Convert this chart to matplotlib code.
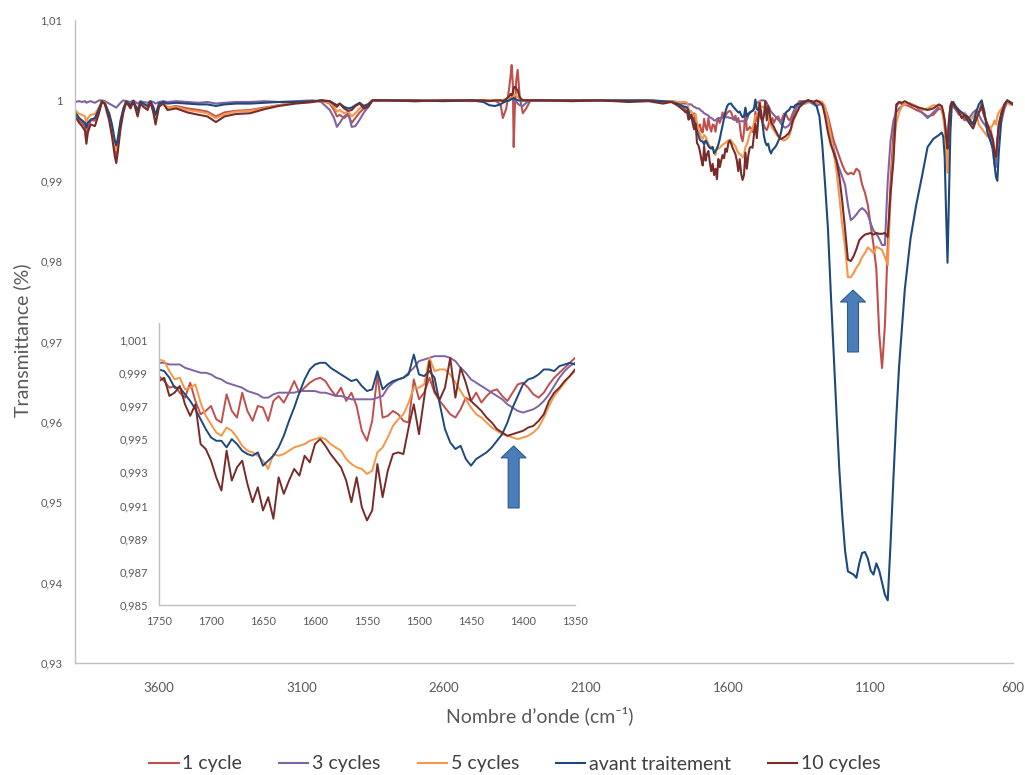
import matplotlib
matplotlib.use("Agg")
import matplotlib.pyplot as plt
from matplotlib.patches import FancyArrowPatch, ArrowStyle
import numpy as np

plt.rcParams['font.family'] = ['Lato', 'DejaVu Sans']

# ---------------- data ----------------
series_names = ["1 cycle", "3 cycles", "5 cycles", "avant traitement", "10 cycles"]
series_colors = ["#C0504D", "#8064A2", "#F79646", "#1F497D", "#772C2A"]

# wavenumber grid, region 3895-1755
wn_high = [3895, 3880, 3870, 3860, 3855, 3850, 3840, 3825, 3810, 3800,
           3790, 3775, 3765, 3755, 3750, 3745, 3735, 3725, 3715, 3700,
           3690, 3675, 3665, 3655, 3640, 3630, 3620, 3612, 3600, 3585,
           3570, 3540, 3500, 3460, 3430, 3400, 3370, 3330, 3280, 3230,
           3180, 3120, 3060, 3030, 3000, 2985, 2975, 2965, 2950, 2935,
           2923, 2910, 2895, 2880, 2865, 2850, 2800, 2700, 2600, 2500,
           2460, 2440, 2420, 2400, 2392, 2380, 2370, 2365, 2361, 2357,
           2354, 2350, 2345, 2340, 2333, 2322, 2310, 2295, 2250, 2150,
           2050, 1950, 1880, 1830, 1800, 1780, 1765, 1755]

# wavenumber grid, band region 1750-1350 (shown in the inset)
wn_band = [1750, 1745, 1740, 1735, 1730, 1725, 1720, 1715, 1710, 1705,
           1700, 1695, 1690, 1685, 1680, 1675, 1670, 1665, 1660, 1655,
           1650, 1645, 1640, 1635, 1630, 1625, 1620, 1615, 1610, 1605,
           1600, 1595, 1590, 1585, 1580, 1575, 1570, 1565, 1560, 1555,
           1550, 1545, 1540, 1535, 1530, 1525, 1520, 1515, 1510, 1505,
           1500, 1495, 1490, 1485, 1480, 1475, 1470, 1465, 1460, 1455,
           1450, 1445, 1440, 1435, 1430, 1425, 1420, 1415, 1410, 1405,
           1400, 1395, 1390, 1385, 1380, 1375, 1370, 1365, 1360, 1355,
           1350]

# wavenumber grid, region 1340-600
wn_low = [1340, 1330, 1320, 1310, 1300, 1290, 1280, 1270, 1260, 1250,
          1240, 1230, 1220, 1210, 1200, 1190, 1180, 1170, 1160, 1150,
          1140, 1130, 1120, 1110, 1100, 1090, 1080, 1070, 1060, 1050,
          1040, 1030, 1020, 1010, 1000, 990, 980, 960, 940, 920,
          900, 880, 860, 850, 845, 840, 835, 830, 825, 820,
          815, 810, 800, 790, 780, 770, 760, 750, 740, 730,
          720, 710, 700, 690, 680, 670, 665, 660, 655, 650,
          640, 630, 620, 610, 600]

# ---- 1 cycle ----
c1_high = [0.9985, 0.9975, 0.9972, 0.9968, 0.9952, 0.9965, 0.9975, 0.9975, 0.9988, 0.9999,
           0.9996, 0.9980, 0.9962, 0.9938, 0.9930, 0.9942, 0.9970, 0.9988, 0.9998, 0.9993,
           0.9999, 0.9985, 0.9997, 0.9993, 0.9990, 0.9998, 0.9988, 0.9975, 0.9993, 0.9997,
           0.9991, 0.9993, 0.9990, 0.9988, 0.9986, 0.9980, 0.9985, 0.9987, 0.9988, 0.9991,
           0.9994, 0.9997, 0.9998, 1.0000, 0.9996, 0.9988, 0.9980, 0.9982, 0.9978, 0.9982,
           0.9972, 0.9978, 0.9985, 0.9990, 0.9995, 1.0000, 1.0000, 1.0000, 1.0000, 0.9999,
           1.0000, 1.0000, 1.0000, 0.9995, 0.9978, 0.9990, 1.0015, 1.0030, 1.0044, 1.0020,
           0.9942, 0.9990, 1.0025, 1.0038, 1.0005, 0.9984, 0.9990, 1.0000, 1.0000, 1.0000,
           1.0000, 0.9999, 1.0000, 0.9998, 0.9999, 0.9996, 0.9993, 0.9990]
c1_band = [0.9988, 0.9985, 0.9981, 0.9982, 0.9978, 0.9975, 0.9984, 0.9973, 0.9965, 0.9967,
           0.9970, 0.9962, 0.9960, 0.9977, 0.9967, 0.9963, 0.9978, 0.9967, 0.9961, 0.9970,
           0.9969, 0.9961, 0.9973, 0.9976, 0.9972, 0.9978, 0.9985, 0.9978, 0.9981, 0.9984,
           0.9986, 0.9987, 0.9985, 0.9980, 0.9976, 0.9981, 0.9973, 0.9978, 0.9970, 0.9955,
           0.9949, 0.9961, 0.9989, 0.9963, 0.9964, 0.9967, 0.9965, 0.9961, 0.9960, 0.9986,
           0.9974, 0.9978, 0.9987, 0.9978, 0.9973, 0.9969, 0.9965, 0.9963, 0.9968, 0.9975,
           0.9973, 0.9978, 0.9972, 0.9976, 0.9979, 0.9980, 0.9976, 0.9973, 0.9978, 0.9983,
           0.9984, 0.9981, 0.9977, 0.9975, 0.9978, 0.9983, 0.9987, 0.9990, 0.9993, 0.9996,
           0.9999]
c1_low = [0.9999, 0.9998, 1.0000, 0.9999, 0.9998, 0.9997, 0.9998, 0.9995, 0.9990, 0.9980,
          0.9965, 0.9950, 0.9940, 0.9930, 0.9920, 0.9912, 0.9908, 0.9910, 0.9908, 0.9915,
          0.9912, 0.9895, 0.9885, 0.9870, 0.9845, 0.9820, 0.9790, 0.9710, 0.9667, 0.9720,
          0.9820, 0.9900, 0.9960, 0.9992, 0.9998, 0.9995, 0.9995, 0.9992, 0.9988, 0.9985,
          0.9980, 0.9982, 0.9990, 0.9988, 0.9980, 0.9970, 0.9955, 0.9938, 0.9970, 0.9990,
          0.9995, 0.9993, 0.9990, 0.9985, 0.9980, 0.9975, 0.9980, 0.9972, 0.9970, 0.9980,
          0.9985, 0.9990, 0.9980, 0.9970, 0.9965, 0.9950, 0.9930, 0.9925, 0.9950, 0.9965,
          0.9975, 0.9990, 0.9998, 0.9995, 0.9995]

# ---- 3 cycles ----
c3_high = [0.9998, 0.9999, 0.9998, 0.9999, 0.9997, 0.9998, 0.9999, 0.9997, 1.0000, 1.0000,
           0.9999, 0.9996, 0.9994, 0.9992, 0.9991, 0.9993, 0.9997, 1.0000, 0.9999, 0.9998,
           1.0000, 0.9996, 0.9999, 0.9998, 0.9997, 0.9999, 0.9998, 0.9996, 0.9998, 0.9999,
           0.9998, 0.9999, 0.9998, 0.9997, 0.9998, 0.9996, 0.9997, 0.9998, 0.9998, 0.9999,
           0.9998, 0.9999, 1.0000, 0.9998, 0.9988, 0.9978, 0.9967, 0.9972, 0.9980, 0.9984,
           0.9967, 0.9968, 0.9976, 0.9985, 0.9992, 1.0000, 1.0000, 0.9999, 1.0000, 1.0000,
           1.0000, 1.0000, 0.9999, 1.0000, 1.0000, 0.9999, 1.0000, 1.0001, 1.0002, 1.0002,
           1.0001, 0.9999, 0.9998, 0.9996, 0.9994, 0.9993, 0.9997, 1.0000, 1.0000, 1.0000,
           1.0000, 0.9999, 1.0000, 0.9999, 0.9999, 0.9998, 0.9997, 0.9996]
c3_band = [0.9996, 0.9996, 0.9995, 0.9995, 0.9995, 0.9993, 0.9992, 0.9991, 0.9990, 0.9990,
           0.9989, 0.9987, 0.9986, 0.9984, 0.9983, 0.9982, 0.9981, 0.9979, 0.9978, 0.9977,
           0.9975, 0.9975, 0.9977, 0.9978, 0.9978, 0.9978, 0.9978, 0.9979, 0.9979, 0.9979,
           0.9979, 0.9978, 0.9978, 0.9977, 0.9976, 0.9976, 0.9975, 0.9974, 0.9974, 0.9974,
           0.9974, 0.9974, 0.9975, 0.9976, 0.9981, 0.9984, 0.9986, 0.9987, 0.9990, 0.9993,
           0.9997, 0.9998, 0.9999, 1.0000, 1.0000, 1.0000, 0.9999, 0.9997, 0.9993, 0.9990,
           0.9986, 0.9984, 0.9982, 0.9980, 0.9978, 0.9976, 0.9974, 0.9971, 0.9969, 0.9967,
           0.9966, 0.9967, 0.9968, 0.9970, 0.9973, 0.9977, 0.9982, 0.9987, 0.9991, 0.9994,
           0.9996]
c3_low = [0.9997, 0.9996, 0.9998, 0.9997, 0.9995, 0.9993, 0.9995, 0.9995, 0.9990, 0.9975,
          0.9955, 0.9940, 0.9925, 0.9915, 0.9905, 0.9895, 0.9870, 0.9851, 0.9854, 0.9858,
          0.9863, 0.9866, 0.9863, 0.9858, 0.9847, 0.9838, 0.9834, 0.9828, 0.9820, 0.9820,
          0.9900, 0.9950, 0.9975, 0.9985, 0.9990, 0.9993, 0.9995, 0.9996, 0.9992, 0.9985,
          0.9978, 0.9985, 0.9992, 0.9990, 0.9985, 0.9975, 0.9960, 0.9948, 0.9975, 0.9990,
          0.9995, 0.9992, 0.9988, 0.9982, 0.9985, 0.9978, 0.9975, 0.9980, 0.9985, 0.9988,
          0.9982, 0.9975, 0.9970, 0.9965, 0.9955, 0.9935, 0.9920, 0.9917, 0.9945, 0.9970,
          0.9985, 0.9992, 0.9998, 0.9996, 0.9995]

# ---- 5 cycles ----
c5_high = [0.9988, 0.9983, 0.9982, 0.9980, 0.9972, 0.9978, 0.9982, 0.9983, 0.9992, 1.0000,
           0.9997, 0.9982, 0.9965, 0.9945, 0.9938, 0.9948, 0.9972, 0.9989, 0.9999, 0.9993,
           0.9999, 0.9985, 0.9997, 0.9994, 0.9991, 0.9998, 0.9990, 0.9978, 0.9994, 0.9997,
           0.9991, 0.9992, 0.9988, 0.9986, 0.9984, 0.9978, 0.9983, 0.9986, 0.9987, 0.9990,
           0.9994, 0.9997, 0.9998, 1.0000, 0.9997, 0.9992, 0.9986, 0.9988, 0.9984, 0.9986,
           0.9980, 0.9984, 0.9990, 0.9993, 0.9996, 1.0000, 1.0000, 1.0000, 1.0000, 1.0000,
           1.0000, 1.0000, 1.0000, 1.0000, 1.0000, 1.0001, 1.0002, 1.0003, 1.0004, 1.0005,
           1.0006, 1.0007, 1.0006, 1.0004, 1.0002, 1.0000, 1.0000, 1.0000, 1.0000, 1.0000,
           1.0000, 1.0000, 1.0000, 0.9999, 0.9999, 0.9998, 0.9998, 0.9998]
c5_band = [0.9998, 0.9997, 0.9991, 0.9986, 0.9987, 0.9980, 0.9981, 0.9983, 0.9972, 0.9964,
           0.9959, 0.9954, 0.9952, 0.9957, 0.9955, 0.9951, 0.9946, 0.9943, 0.9942, 0.9940,
           0.9937, 0.9932, 0.9941, 0.9940, 0.9941, 0.9943, 0.9945, 0.9946, 0.9947, 0.9949,
           0.9950, 0.9951, 0.9950, 0.9947, 0.9945, 0.9943, 0.9938, 0.9935, 0.9933, 0.9932,
           0.9929, 0.9931, 0.9942, 0.9945, 0.9951, 0.9958, 0.9962, 0.9965, 0.9972, 0.9981,
           0.9981, 0.9983, 0.9999, 0.9991, 0.9992, 0.9992, 0.9989, 0.9984, 0.9979, 0.9974,
           0.9969, 0.9965, 0.9963, 0.9960, 0.9957, 0.9955, 0.9953, 0.9952, 0.9951, 0.9950,
           0.9951, 0.9952, 0.9954, 0.9957, 0.9963, 0.9970, 0.9976, 0.9980, 0.9984, 0.9988,
           0.9991]
c5_low = [0.9995, 0.9997, 0.9999, 0.9998, 0.9999, 0.9998, 0.9999, 0.9998, 0.9993, 0.9975,
          0.9955, 0.9935, 0.9912, 0.9880, 0.9845, 0.9818, 0.9780, 0.9780, 0.9785, 0.9792,
          0.9797, 0.9805, 0.9810, 0.9817, 0.9814, 0.9810, 0.9818, 0.9816, 0.9814, 0.9805,
          0.9795, 0.9880, 0.9940, 0.9972, 0.9985, 0.9993, 0.9995, 0.9996, 0.9993, 0.9988,
          0.9990, 0.9994, 0.9993, 0.9990, 0.9980, 0.9965, 0.9935, 0.9910, 0.9960, 0.9992,
          0.9998, 0.9995, 0.9990, 0.9985, 0.9980, 0.9985, 0.9980, 0.9975, 0.9980, 0.9985,
          0.9970, 0.9965, 0.9960, 0.9955, 0.9965, 0.9970, 0.9975, 0.9970, 0.9980, 0.9985,
          0.9990, 0.9995, 0.9998, 0.9995, 0.9995]

# ---- avant traitement ----
c0_high = [0.9985, 0.9978, 0.9975, 0.9972, 0.9966, 0.9972, 0.9976, 0.9978, 0.9990, 0.9999,
           0.9996, 0.9984, 0.9970, 0.9950, 0.9944, 0.9952, 0.9975, 0.9990, 0.9999, 0.9994,
           0.9999, 0.9988, 0.9998, 0.9996, 0.9993, 0.9999, 0.9992, 0.9982, 0.9996, 0.9998,
           0.9996, 0.9997, 0.9996, 0.9995, 0.9995, 0.9993, 0.9995, 0.9996, 0.9996, 0.9997,
           0.9998, 0.9998, 0.9999, 1.0000, 0.9999, 0.9996, 0.9994, 0.9996, 0.9992, 0.9990,
           0.9991, 0.9994, 0.9997, 0.9993, 0.9995, 1.0000, 1.0000, 1.0000, 0.9999, 1.0000,
           0.9998, 0.9994, 0.9993, 0.9995, 0.9997, 0.9999, 1.0000, 1.0001, 1.0002, 1.0002,
           1.0003, 1.0002, 1.0001, 1.0000, 1.0000, 1.0000, 1.0000, 1.0000, 1.0000, 1.0000,
           1.0000, 1.0000, 1.0000, 0.9999, 0.9998, 0.9996, 0.9994, 0.9992]
c0_band = [0.9992, 0.9991, 0.9987, 0.9981, 0.9981, 0.9977, 0.9973, 0.9968, 0.9962, 0.9956,
           0.9951, 0.9949, 0.9949, 0.9945, 0.9950, 0.9947, 0.9943, 0.9941, 0.9940, 0.9942,
           0.9934, 0.9937, 0.9940, 0.9945, 0.9952, 0.9961, 0.9969, 0.9978, 0.9986, 0.9992,
           0.9995, 0.9996, 0.9996, 0.9993, 0.9991, 0.9989, 0.9987, 0.9985, 0.9986, 0.9982,
           0.9979, 0.9980, 0.9991, 0.9980, 0.9983, 0.9985, 0.9986, 0.9987, 0.9989, 1.0001,
           0.9989, 0.9988, 0.9991, 0.9987, 0.9971, 0.9956, 0.9948, 0.9944, 0.9946, 0.9938,
           0.9934, 0.9938, 0.9940, 0.9942, 0.9945, 0.9949, 0.9953, 0.9960, 0.9969, 0.9976,
           0.9983, 0.9986, 0.9987, 0.9989, 0.9992, 0.9992, 0.9991, 0.9994, 0.9995, 0.9996,
           0.9995]
c0_low = [0.9998, 0.9999, 1.0000, 0.9999, 0.9997, 0.9993, 0.9980, 0.9945, 0.9895, 0.9840,
          0.9760, 0.9685, 0.9611, 0.9540, 0.9485, 0.9440, 0.9414, 0.9412, 0.9410, 0.9406,
          0.9424, 0.9437, 0.9438, 0.9430, 0.9415, 0.9410, 0.9424, 0.9415, 0.9400, 0.9385,
          0.9378, 0.9450, 0.9530, 0.9605, 0.9670, 0.9718, 0.9765, 0.9828, 0.9870, 0.9905,
          0.9942, 0.9952, 0.9957, 0.9960, 0.9955, 0.9930, 0.9860, 0.9798, 0.9880, 0.9960,
          0.9995, 0.9998, 0.9992, 0.9988, 0.9985, 0.9982, 0.9980, 0.9975, 0.9970, 0.9985,
          0.9995, 1.0000, 0.9985, 0.9960, 0.9950, 0.9940, 0.9920, 0.9905, 0.9900, 0.9935,
          0.9980, 0.9995, 1.0000, 0.9998, 0.9996]

# ---- 10 cycles ----
c10_high = [0.9980, 0.9972, 0.9968, 0.9962, 0.9946, 0.9960, 0.9970, 0.9968, 0.9985, 0.9999,
            0.9995, 0.9975, 0.9955, 0.9930, 0.9922, 0.9935, 0.9965, 0.9985, 0.9998, 0.9990,
            0.9999, 0.9980, 0.9996, 0.9992, 0.9988, 0.9998, 0.9985, 0.9970, 0.9992, 0.9996,
            0.9988, 0.9990, 0.9985, 0.9982, 0.9980, 0.9973, 0.9980, 0.9983, 0.9984, 0.9989,
            0.9993, 0.9996, 0.9998, 1.0000, 0.9999, 0.9995, 0.9992, 0.9996, 0.9990, 0.9987,
            0.9988, 0.9993, 0.9996, 0.9990, 0.9992, 1.0000, 1.0000, 0.9999, 1.0000, 1.0000,
            1.0000, 0.9999, 1.0000, 1.0000, 0.9999, 1.0002, 1.0005, 1.0008, 1.0006, 1.0010,
            1.0015, 1.0017, 1.0015, 1.0012, 1.0004, 1.0000, 1.0000, 1.0000, 1.0000, 0.9999,
            1.0000, 0.9998, 0.9999, 0.9996, 0.9998, 0.9994, 0.9990, 0.9987]
c10_band = [0.9985, 0.9987, 0.9976, 0.9978, 0.9982, 0.9971, 0.9964, 0.9971, 0.9947, 0.9944,
            0.9937, 0.9927, 0.9919, 0.9943, 0.9925, 0.9933, 0.9937, 0.9923, 0.9912, 0.9921,
            0.9907, 0.9915, 0.9902, 0.9927, 0.9917, 0.9925, 0.9932, 0.9928, 0.9940, 0.9936,
            0.9947, 0.9950, 0.9946, 0.9941, 0.9937, 0.9933, 0.9925, 0.9912, 0.9927, 0.9909,
            0.9901, 0.9907, 0.9935, 0.9915, 0.9931, 0.9941, 0.9942, 0.9941, 0.9957, 0.9971,
            0.9953, 0.9975, 0.9997, 0.9979, 0.9974, 0.9981, 0.9999, 0.9975, 0.9993, 0.9984,
            0.9973, 0.9970, 0.9967, 0.9963, 0.9960, 0.9956, 0.9954, 0.9952, 0.9953, 0.9954,
            0.9955, 0.9957, 0.9958, 0.9961, 0.9965, 0.9973, 0.9978, 0.9981, 0.9985, 0.9988,
            0.9992]
c10_low = [0.9995, 0.9998, 1.0000, 0.9999, 0.9998, 1.0000, 0.9998, 0.9995, 0.9980, 0.9960,
           0.9945, 0.9935, 0.9925, 0.9905, 0.9875, 0.9840, 0.9802, 0.9800, 0.9806, 0.9815,
           0.9826, 0.9830, 0.9833, 0.9834, 0.9835, 0.9833, 0.9835, 0.9834, 0.9834, 0.9835,
           0.9830, 0.9885, 0.9925, 0.9995, 0.9998, 0.9997, 0.9999, 0.9995, 0.9992, 0.9990,
           0.9988, 0.9990, 0.9995, 0.9993, 0.9985, 0.9975, 0.9955, 0.9940, 0.9975, 0.9993,
           0.9998, 0.9995, 0.9990, 0.9985, 0.9978, 0.9982, 0.9975, 0.9970, 0.9965, 0.9975,
           0.9985, 0.9995, 0.9980, 0.9970, 0.9960, 0.9950, 0.9935, 0.9930, 0.9950, 0.9970,
           0.9985, 0.9995, 1.0000, 0.9997, 0.9995]

x_ticks = [3600, 3100, 2600, 2100, 1600, 1100, 600]
y_ticks = [0.93, 0.94, 0.95, 0.96, 0.97, 0.98, 0.99, 1.00, 1.01]
y_tick_labels = ["0,93", "0,94", "0,95", "0,96", "0,97", "0,98", "0,99", "1", "1,01"]
inset_x_ticks = [1750, 1700, 1650, 1600, 1550, 1500, 1450, 1400, 1350]
inset_y_ticks = [0.985, 0.987, 0.989, 0.991, 0.993, 0.995, 0.997, 0.999, 1.001]
inset_y_tick_labels = ["0,985", "0,987", "0,989", "0,991", "0,993", "0,995", "0,997", "0,999", "1,001"]

# ---------------- assemble ----------------
wn = np.array(wn_high + wn_band + wn_low, dtype=float)
series = [c1_high + c1_band + c1_low,
          c3_high + c3_band + c3_low,
          c5_high + c5_band + c5_low,
          c0_high + c0_band + c0_low,
          c10_high + c10_band + c10_low]

TICK_COLOR = "#595959"
SPINE_COLOR = "#BFBFBF"

fig = plt.figure(figsize=(10.25, 7.75), dpi=100)
ax = fig.add_axes([75 / 1025, 112 / 775, 938 / 1025, 643 / 775])

for vals, name, color in zip(series, series_names, series_colors):
    ax.plot(wn, vals, color=color, lw=1.5, label=name, solid_joinstyle='round')

ax.set_xlim(3895, 600)
ax.set_ylim(0.93, 1.01)
ax.set_xticks(x_ticks)
ax.set_xticklabels([str(t) for t in x_ticks])
ax.set_yticks(y_ticks)
ax.set_yticklabels(y_tick_labels)
ax.tick_params(axis='both', length=0, colors=TICK_COLOR)
ax.tick_params(axis='x', pad=14, labelsize=9.5)
ax.tick_params(axis='y', pad=9, labelsize=8)
for s in ['top', 'right']:
    ax.spines[s].set_visible(False)
for s in ['left', 'bottom']:
    ax.spines[s].set_color(SPINE_COLOR)
    ax.spines[s].set_linewidth(1.0)

ax.set_xlabel("Nombre d’onde (cm⁻¹)", fontsize=14, color=TICK_COLOR, va='center', ha='center')
ax.xaxis.set_label_coords((540 - 75) / 938, -(716 - 663) / 643)
ax.set_ylabel("Transmittance (%)", fontsize=14, color=TICK_COLOR, va='center', ha='center')
ax.yaxis.set_label_coords((22 - 75) / 938, (663 - 340) / 643)

fig.legend(loc='center', bbox_to_anchor=(515 / 1025, 11 / 775), ncol=5, frameon=False,
           fontsize=14, handlelength=1.5, handletextpad=0.2, columnspacing=1.9,
           labelcolor="#404040")

arrow_style = ArrowStyle.Simple(head_length=8.6, head_width=18, tail_width=7.9)
ax.add_patch(FancyArrowPatch((1162, 0.9687), (1162, 0.9764), arrowstyle=arrow_style,
                             mutation_scale=1, shrinkA=0, shrinkB=0,
                             fc="#4A7EBB", ec="#2F5A8C", lw=0.8, zorder=6))

# ---------------- inset ----------------
axins = fig.add_axes([159 / 1025, 170 / 775, 416 / 1025, 282 / 775])
axins.set_facecolor('white')
for vals, name, color in zip(series, series_names, series_colors):
    axins.plot(wn, vals, color=color, lw=1.4, solid_joinstyle='round')
axins.set_xlim(1750, 1350)
axins.set_ylim(0.985, 1.002)
axins.set_xticks(inset_x_ticks)
axins.set_xticklabels([str(t) for t in inset_x_ticks])
axins.set_yticks(inset_y_ticks)
axins.set_yticklabels(inset_y_tick_labels)
axins.tick_params(axis='both', length=0, colors=TICK_COLOR, labelsize=8)
axins.tick_params(axis='x', pad=8)
axins.tick_params(axis='y', pad=8)
for s in ['top', 'right']:
    axins.spines[s].set_visible(False)
for s in ['left', 'bottom']:
    axins.spines[s].set_color(SPINE_COLOR)
    axins.spines[s].set_linewidth(1.0)

axins.add_patch(FancyArrowPatch((1409, 0.99085), (1409, 0.99459), arrowstyle=arrow_style,
                                mutation_scale=1, shrinkA=0, shrinkB=0,
                                fc="#4A7EBB", ec="#2F5A8C", lw=0.8, zorder=6))

fig.savefig("out.png", dpi=100)
